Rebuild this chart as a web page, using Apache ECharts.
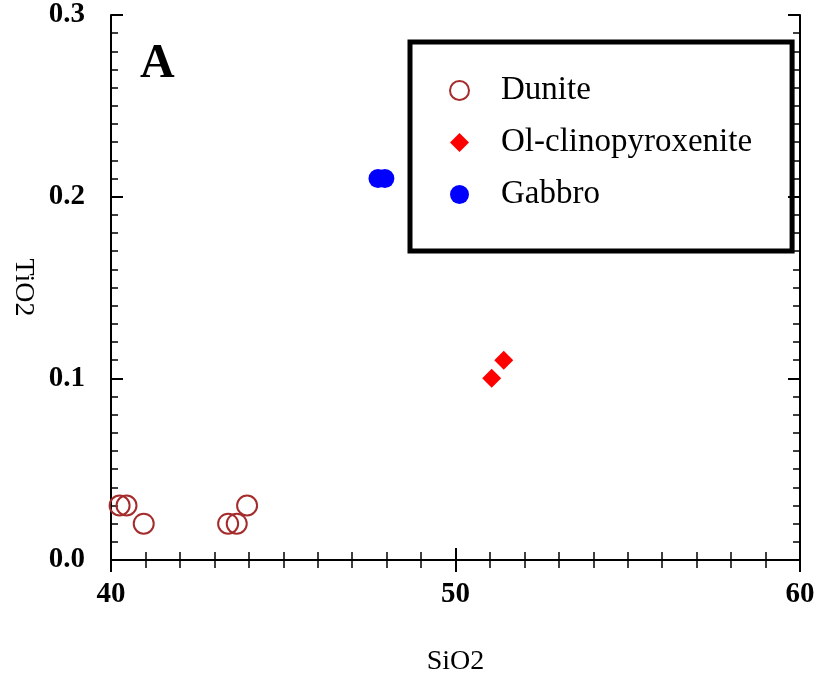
<!DOCTYPE html>
<html lang="en">
  <head>
    <meta charset="UTF-8" />
    <title>TiO2 vs SiO2</title>
    <script src="https://cdn.jsdelivr.net/npm/echarts@6/dist/echarts.min.js"></script>
    <style>
      html, body { margin: 0; padding: 0; background: #fff; }
    </style>
  </head>
  <body>
    <div id="main" style="width: 817px; height: 681px"></div>
    <script>
      // SiO2 / TiO2 pairs
      var duniteSiO2 = [40.25, 40.45, 40.95, 43.4, 43.65, 43.95];
      var duniteTiO2 = [0.03, 0.03, 0.02, 0.02, 0.02, 0.03];
      var olcpxSiO2 = [51.05, 51.4];
      var olcpxTiO2 = [0.1, 0.11];
      var gabbroSiO2 = [47.75, 47.95];
      var gabbroTiO2 = [0.21, 0.21];

      var seriesNames = ["Dunite", "Ol-clinopyroxenite", "Gabbro"];

      function pairs(xs, ys) {
        return xs.map(function (x, i) {
          return [x, ys[i]];
        });
      }

      var serif = "Liberation Serif";
      var axisLine = { lineStyle: { color: "#000", width: 2 } };
      var tickLabel = {
        fontFamily: serif,
        fontWeight: "bold",
        fontSize: 29,
        color: "#000",
      };

      function xAxisDef(pos, showLabel) {
        return {
          type: "value",
          position: pos,
          min: 40,
          max: 60,
          interval: 10,
          axisLine: axisLine,
          axisTick: { inside: true, length: 12, lineStyle: { color: "#000", width: 2 } },
          minorTick: { show: true, splitNumber: 10, length: 8, lineStyle: { color: "#000", width: 1.5 } },
          splitLine: { show: false },
          axisLabel: Object.assign({ show: showLabel, margin: 20 }, tickLabel),
          name: showLabel ? "SiO2" : "",
          nameLocation: "middle",
          nameGap: 88,
          nameTextStyle: { fontFamily: serif, fontSize: 28, color: "#000" },
        };
      }

      function yAxisDef(pos, showLabel) {
        return {
          type: "value",
          position: pos,
          min: 0,
          max: 0.3,
          interval: 0.1,
          axisLine: axisLine,
          axisTick: { inside: true, length: 12, lineStyle: { color: "#000", width: 2 } },
          minorTick: { show: true, splitNumber: 10, length: 7, lineStyle: { color: "#000", width: 1.5 } },
          splitLine: { show: false },
          axisLabel: Object.assign(
            {
              show: showLabel,
              margin: 26,
              formatter: function (v) {
                return v.toFixed(1);
              },
            },
            tickLabel
          ),
          name: showLabel ? "TiO2" : "",
          nameLocation: "middle",
          nameRotate: -90,
          nameGap: 73,
          nameTextStyle: { fontFamily: serif, fontSize: 28, color: "#000" },
        };
      }

      var chart = echarts.init(document.getElementById("main"));
      chart.setOption({
        animation: false,
        backgroundColor: "#fff",
        grid: { left: 111, right: 17, top: 15, bottom: 121, outerBoundsMode: "none", containLabel: false },
        xAxis: [xAxisDef("bottom", true), xAxisDef("top", false)],
        yAxis: [yAxisDef("left", true), yAxisDef("right", false)],
        legend: {
          orient: "vertical",
          left: 410,
          top: 42,
          padding: [32, 40, 40, 39],
          borderColor: "#000",
          borderWidth: 5,
          itemWidth: 19,
          itemHeight: 19,
          itemGap: 19,
          data: seriesNames,
          textStyle: {
            fontFamily: serif,
            fontSize: 33,
            color: "#000",
            padding: [0, 0, 0, 27],
          },
        },
        graphic: [
          {
            type: "text",
            left: 140,
            top: 41,
            style: {
              text: "A",
              fontFamily: serif,
              fontWeight: "bold",
              fontSize: 48,
              fill: "#000",
            },
          },
        ],
        series: [
          {
            name: seriesNames[0],
            type: "scatter",
            symbol: "circle",
            symbolSize: 20,
            itemStyle: { color: "rgba(255,255,255,0)", borderColor: "#a52c2c", borderWidth: 2, opacity: 1 },
            data: pairs(duniteSiO2, duniteTiO2),
          },
          {
            name: seriesNames[1],
            type: "scatter",
            symbol: "diamond",
            symbolSize: 19,
            itemStyle: { color: "#ff0000", opacity: 1 },
            data: pairs(olcpxSiO2, olcpxTiO2),
          },
          {
            name: seriesNames[2],
            type: "scatter",
            symbol: "circle",
            symbolSize: 19,
            itemStyle: { color: "#0000ff", opacity: 1 },
            data: pairs(gabbroSiO2, gabbroTiO2),
          },
        ],
      });
    </script>
  </body>
</html>
